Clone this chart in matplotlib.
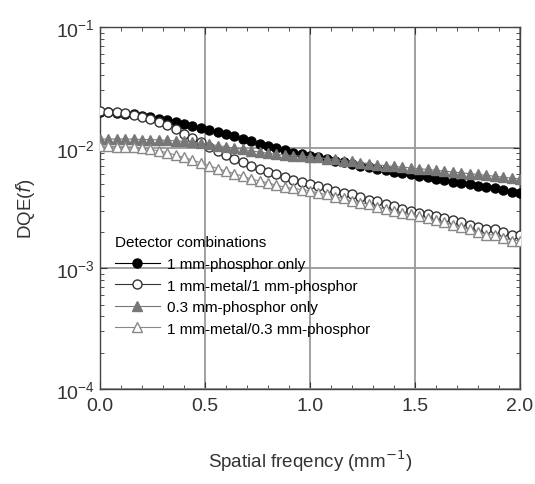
import numpy as np
import matplotlib.pyplot as plt
from matplotlib.ticker import MultipleLocator, LogLocator, NullFormatter

plt.rcParams['font.family'] = ['Liberation Sans', 'DejaVu Sans']

freq = np.linspace(0, 2, 51)

# 1 mm-phosphor only
dqe_p1 = [0.0198, 0.0197, 0.0195, 0.0192, 0.0189, 0.0184, 0.0179, 0.0174, 0.0169, 0.0163,
          0.0157, 0.0152, 0.0146, 0.0140, 0.0135, 0.0129, 0.0124, 0.0118, 0.0113, 0.0108,
          0.0104, 0.0099, 0.0095, 0.0091, 0.0088, 0.0085, 0.0083, 0.0080, 0.0078, 0.0076,
          0.0073, 0.0071, 0.0069, 0.0067, 0.0065, 0.0063, 0.0062, 0.0060, 0.0058, 0.0057,
          0.0055, 0.0054, 0.0052, 0.0051, 0.0050, 0.0048, 0.0047, 0.0046, 0.0045, 0.0043,
          0.0042]
# 1 mm-metal/1 mm-phosphor
dqe_m1p1 = [0.0200, 0.0199, 0.0197, 0.0193, 0.0188, 0.0181, 0.0173, 0.0163, 0.0153, 0.0142,
            0.0131, 0.0121, 0.0111, 0.0102, 0.0094, 0.0087, 0.0081, 0.0076, 0.0071, 0.0067,
            0.0063, 0.0060, 0.0057, 0.0054, 0.0052, 0.0050, 0.0048, 0.0046, 0.0044, 0.0042,
            0.0041, 0.0039, 0.0037, 0.0036, 0.0034, 0.0033, 0.0031, 0.0030, 0.0029, 0.0028,
            0.0027, 0.0026, 0.0025, 0.0024, 0.0023, 0.0022, 0.0021, 0.0021, 0.0020, 0.0019,
            0.0019]
# 0.3 mm-phosphor only
dqe_p03 = [0.0118, 0.0118, 0.0118, 0.0118, 0.0118, 0.0117, 0.0117, 0.0116, 0.0115, 0.0114,
           0.0113, 0.0111, 0.0109, 0.0107, 0.0104, 0.0102, 0.0099, 0.0097, 0.0094, 0.0092,
           0.0090, 0.0088, 0.0087, 0.0086, 0.0085, 0.0084, 0.0083, 0.0081, 0.0080, 0.0078,
           0.0077, 0.0075, 0.0074, 0.0072, 0.0071, 0.0070, 0.0069, 0.0068, 0.0067, 0.0066,
           0.0065, 0.0064, 0.0063, 0.0062, 0.0061, 0.0060, 0.0059, 0.0058, 0.0057, 0.0056,
           0.0055]
# 1 mm-metal/0.3 mm-phosphor
dqe_m1p03 = [0.0103, 0.0103, 0.0102, 0.0102, 0.0101, 0.0099, 0.0097, 0.0094, 0.0091, 0.0087,
             0.0083, 0.0079, 0.0075, 0.0071, 0.0067, 0.0064, 0.0061, 0.0058, 0.0055, 0.0053,
             0.0051, 0.0049, 0.0047, 0.0046, 0.0045, 0.0044, 0.0042, 0.0041, 0.0039, 0.0038,
             0.0036, 0.0035, 0.0034, 0.0032, 0.0031, 0.0030, 0.0029, 0.0028, 0.0027, 0.0026,
             0.0025, 0.0024, 0.0023, 0.0022, 0.0021, 0.0020, 0.0019, 0.0019, 0.0018, 0.0017,
             0.0017]

labels = ['1 mm-phosphor only', '1 mm-metal/1 mm-phosphor',
          '0.3 mm-phosphor only', '1 mm-metal/0.3 mm-phosphor']

fig = plt.figure(figsize=(5.35, 4.85), dpi=100)
ax = fig.add_axes([0.187, 0.196, 0.785, 0.746])

ax.plot(freq, dqe_p1, '-o', color='black', lw=0.8, ms=6.5, mfc='black', label=labels[0], zorder=3)
ax.plot(freq, dqe_m1p1, '-o', color='#333333', lw=0.8, ms=6.5, mfc='white', mew=1.0, label=labels[1], zorder=3)
ax.plot(freq, dqe_p03, '-^', color='#777777', lw=0.8, ms=6.5, mfc='#777777', label=labels[2], zorder=3)
ax.plot(freq, dqe_m1p03, '-^', color='#888888', lw=0.8, ms=6.5, mfc='white', mew=1.0, label=labels[3], zorder=3)

ax.set_yscale('log')
ax.set_ylim(1e-4, 1e-1)
ax.set_xlim(0, 2.0)
ax.xaxis.set_major_locator(MultipleLocator(0.5))
ax.xaxis.set_minor_locator(MultipleLocator(0.1))
ax.yaxis.set_minor_locator(LogLocator(base=10, subs=np.arange(2, 10)))
ax.yaxis.set_minor_formatter(NullFormatter())
ax.xaxis.set_major_formatter(plt.FuncFormatter(lambda v, p: f'{v:.1f}'))
ax.yaxis.set_major_formatter(plt.FuncFormatter(
    lambda v, p: r'$\mathregular{10^{%d}}$' % round(np.log10(v))))

ax.grid(True, which='major', color='#999999', lw=1.3)
ax.tick_params(which='both', direction='in', top=True, right=True, labelsize=14, colors='#333333')
ax.tick_params(axis='x', pad=6)
ax.tick_params(which='major', length=5)
ax.tick_params(which='minor', length=3)
for s in ax.spines.values():
    s.set_color('#444444')
    s.set_linewidth(1.0)

ax.set_xlabel('Spatial freqency (mm$^{-1}$)', fontsize=13.5, color='#333333', labelpad=24)
ax.set_ylabel('DQE($f$)', fontsize=13.5, color='#333333', labelpad=14)

leg = ax.legend(loc='lower left', frameon=False, title='Detector combinations',
                fontsize=11, title_fontsize=11, handlelength=3.0, handletextpad=0.4,
                labelspacing=0.5, borderaxespad=0.0, bbox_to_anchor=(0.02, 0.13))
leg._legend_box.align = 'left'

fig.savefig('out.png', dpi=100)
